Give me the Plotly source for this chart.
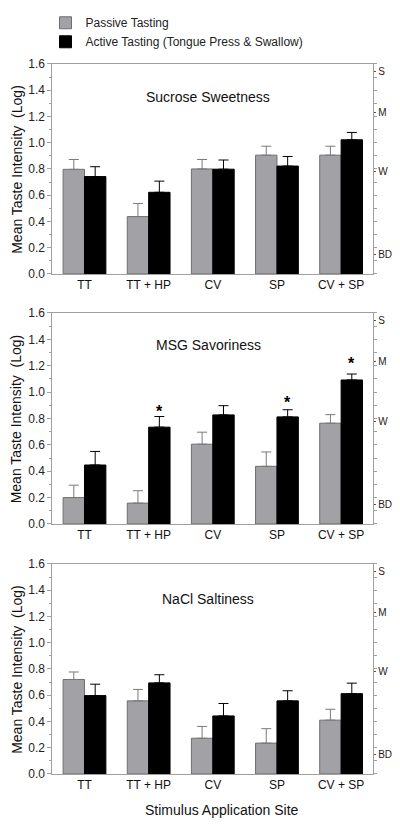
import plotly.graph_objects as go

sites = ["TT", "TT + HP", "CV", "SP", "CV + SP"]
panel_titles = ["Sucrose Sweetness", "MSG Savoriness", "NaCl Saltiness"]

sucrose_passive = [0.797, 0.437, 0.800, 0.905, 0.905]
sucrose_passive_err = [0.075, 0.100, 0.072, 0.068, 0.068]
sucrose_active = [0.742, 0.622, 0.798, 0.822, 1.022]
sucrose_active_err = [0.075, 0.085, 0.070, 0.073, 0.056]

msg_passive = [0.200, 0.158, 0.605, 0.437, 0.764]
msg_passive_err = [0.094, 0.094, 0.091, 0.109, 0.065]
msg_active = [0.447, 0.734, 0.827, 0.812, 1.092]
msg_active_err = [0.103, 0.081, 0.070, 0.054, 0.045]
msg_sig_y = [None, 0.88, None, 0.955, 1.245]

nacl_passive = [0.720, 0.557, 0.272, 0.235, 0.410]
nacl_passive_err = [0.057, 0.087, 0.090, 0.110, 0.083]
nacl_active = [0.597, 0.694, 0.442, 0.557, 0.612]
nacl_active_err = [0.087, 0.062, 0.095, 0.077, 0.080]

glms_vals = [0.146, 0.778, 1.230, 1.544]
glms_text = ["BD", "W", "M", "S"]
left_ticks = [0.0, 0.2, 0.4, 0.6, 0.8, 1.0, 1.2, 1.4, 1.6]
right_minor = [round(i * 0.1, 1) for i in range(17)]

PAGE_W, PAGE_H = 400, 829
BODY = 8  # default page body margin
W, H = PAGE_W - 2 * BODY, PAGE_H - 2 * BODY
FONT = "Arial, Liberation Sans, sans-serif"
GRAY_FILL = "#a2a2a6"
GRAY_LINE = "#6f6f6f"
AXIS = "#a0a0a0"


def pxx(x):
    return (x - BODY) / W


def pxy(y):
    return 1 - (y - BODY) / H


panels = [
    (sucrose_passive, sucrose_passive_err, sucrose_active, sucrose_active_err),
    (msg_passive, msg_passive_err, msg_active, msg_active_err),
    (nacl_passive, nacl_passive_err, nacl_active, nacl_active_err),
]
px_tops = [53, 308, 565]
px_bots = [268, 524, 780]
title_y = [87, 341, 601]
xdom = [pxx(53), pxx(378)]

fig = go.Figure()
for i, (pv, pe, av, ae) in enumerate(panels):
    sfx = "" if i == 0 else str(i + 1)
    xa, ya = "x" + sfx, "y" + sfx
    fig.add_trace(go.Bar(
        x=sites, y=pv, xaxis=xa, yaxis=ya, name="Passive Tasting",
        marker=dict(color=GRAY_FILL, line=dict(color=GRAY_LINE, width=1)),
        error_y=dict(type="data", symmetric=False, array=pe, arrayminus=[0] * 5,
                     color="#7a7a7a", thickness=1, width=5),
        showlegend=(i == 0), legendgroup="p", hoverinfo="skip"))
    fig.add_trace(go.Bar(
        x=sites, y=av, xaxis=xa, yaxis=ya, name="Active Tasting (Tongue Press & Swallow)",
        marker=dict(color="#000000", line=dict(color="#000000", width=1)),
        error_y=dict(type="data", symmetric=False, array=ae, arrayminus=[0] * 5,
                     color="#000000", thickness=1, width=5),
        showlegend=(i == 0), legendgroup="a", hoverinfo="skip"))
    for r in (4 + i, 7 + i):
        fig.add_trace(go.Scatter(x=[], y=[], xaxis=xa, yaxis=f"y{r}",
                                 showlegend=False, hoverinfo="skip"))

layout = dict(
    width=W, height=H, margin=dict(l=0, r=0, t=0, b=0),
    paper_bgcolor="white", plot_bgcolor="white",
    barmode="group", bargap=0.333, bargroupgap=0,
    font=dict(family=FONT, size=12, color="#111111"),
    legend=dict(x=pxx(46), y=pxy(-4), xanchor="left", yanchor="top",
                font=dict(size=12, color="#222222"), tracegroupgap=0,
                bgcolor="rgba(0,0,0,0)", itemwidth=30),
    annotations=[],
)

for i in range(3):
    sfx = "" if i == 0 else str(i + 1)
    top, bot = px_tops[i], px_bots[i]
    ydom = [pxy(bot), pxy(top)]
    layout[f"xaxis{sfx}"] = dict(
        domain=xdom, anchor=f"y{sfx}", showline=True, linecolor=AXIS, linewidth=1,
        mirror=True, ticks="", showgrid=False, tickfont=dict(size=12, color="#111"),
        fixedrange=True)
    layout[f"yaxis{sfx}"] = dict(
        domain=ydom, anchor=f"x{sfx}", range=[0, 1.6], tickvals=left_ticks,
        tickformat=".1f", ticks="outside", ticklen=4, tickcolor=AXIS,
        showline=True, linecolor=AXIS, linewidth=1, showgrid=False, zeroline=False,
        tickfont=dict(size=12, color="#222"), fixedrange=True,
        minor=dict(ticks="outside", ticklen=2, dtick=0.1, tick0=0, tickcolor=AXIS,
                   showgrid=False))
    layout[f"yaxis{4 + i}"] = dict(
        overlaying=f"y{sfx}", side="right", anchor=f"x{sfx}", range=[0, 1.6],
        tickvals=right_minor, ticktext=[""] * len(right_minor), ticks="outside",
        ticklen=3, tickcolor=AXIS, showline=True, linecolor=AXIS, linewidth=1,
        showgrid=False, zeroline=False, fixedrange=True)
    layout[f"yaxis{7 + i}"] = dict(
        overlaying=f"y{sfx}", side="right", anchor=f"x{sfx}", range=[0, 1.6],
        tickvals=glms_vals, ticktext=glms_text, ticks="outside", ticklen=2,
        tickcolor="#555", showline=False, showgrid=False, zeroline=False,
        tickfont=dict(size=10, color="#222"), fixedrange=True)
    layout["annotations"].append(dict(
        text="Mean Taste Intensity\u00a0 (Log)", textangle=-90, xref="paper",
        yref="paper", x=pxx(17), y=pxy((top + bot) / 2), showarrow=False,
        xanchor="center", yanchor="middle", font=dict(size=14, color="#111")))
    layout["annotations"].append(dict(
        text=panel_titles[i], xref="paper", yref="paper", x=pxx(211),
        y=pxy(title_y[i]), showarrow=False,
        xanchor="center", yanchor="middle", font=dict(size=14, color="#111")))

for s, ys in zip(sites, msg_sig_y):
    if ys is not None:
        layout["annotations"].append(dict(
            text="<b>*</b>", x=s, y=ys, xref="x2", yref="y2", xshift=10.8, yshift=-4,
            showarrow=False, xanchor="center", yanchor="middle",
            font=dict(size=16, color="#000")))

layout["annotations"].append(dict(
    text="Stimulus Application Site", xref="paper", yref="paper", x=pxx(225),
    y=pxy(817), showarrow=False, xanchor="center", yanchor="middle",
    font=dict(size=14, color="#111")))

fig.update_layout(**layout)
fig.write_html("out.html")
